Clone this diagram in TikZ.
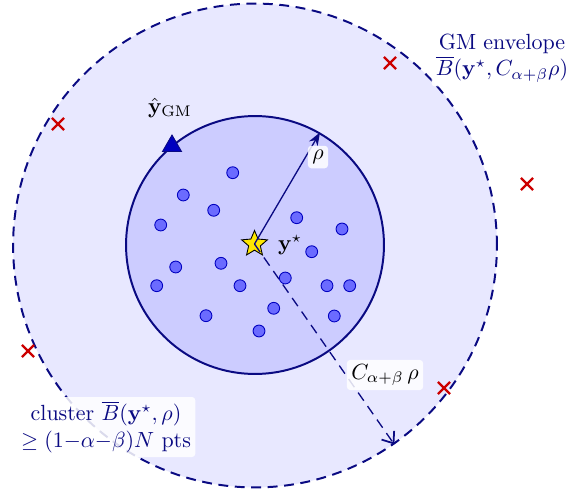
\documentclass[tikz,border=0pt]{standalone}
\usepackage{amsmath,amssymb}
\usetikzlibrary{shapes.geometric,shapes.misc,arrows.meta}
\definecolor{navy}{RGB}{10,10,130}

\begin{document}
\begin{tikzpicture}[x=0.016cm,y=-0.016cm,
  dot/.style={circle,draw=blue!75!black,fill=blue!58,inner sep=0pt,minimum size=5.4pt},
  miss/.style={cross out,draw=red!80!black,line width=1.1pt,inner sep=0pt,minimum size=4.4pt},
  tag/.style={fill=white,fill opacity=0.85,text opacity=1,rounded corners=1.5pt,inner sep=2pt}]
  \useasboundingbox (0,0) rectangle (577,490);
  \node[circle,draw=navy,fill=blue!9,line width=0.9pt,dash pattern=on 4.5pt off 3pt,
    inner sep=0pt,minimum size=7.744cm] (env) at (255,245.5) {};
  \node[circle,draw=navy,fill=blue!20,line width=0.9pt,inner sep=0pt,minimum size=4.128cm] (clu) at (255,245) {};
  % inliers
  \foreach \x/\y [count=\i] in {232.7/172.7,183.3/195,213.7/210.3,160.7/225,296.7/217.7,342/229,
      311.7/251.7,175.7/267,221/263.3,285.3/278,156.7/285.7,240/285.7,327/285.7,349.7/285.7,
      206/315.7,273.7/308.3,334.3/316,259/331}
    \node[dot] (p\i) at (\x,\y) {};
  % outliers
  \node[miss] (o1) at (390,63) {};
  \node[miss] (o2) at (58,124) {};
  \node[miss] (o3) at (527,184) {};
  \node[miss] (o4) at (28,351) {};
  \node[miss] (o5) at (444,388) {};
  \node[regular polygon,regular polygon sides=3,fill=blue!75!black,draw=navy,inner sep=0pt,minimum size=10pt] (gm) at (172,146) {};
  \node (gmlab) at (170,108) {$\hat{\mathbf{y}}_{\mathrm{GM}}$};
  \node[star,star points=5,star point ratio=2.2,fill=yellow!90!orange,draw=black,inner sep=0pt,minimum size=12.3pt] (s) at (254.5,244) {};
  \node (slab) at (290,245) {$\mathbf{y}^\star$};
  \draw[navy,line width=0.6pt,-{Stealth[length=6pt,width=4.5pt]}] (s.center) -- (clu.60);
  \draw[navy,line width=0.6pt,dash pattern=on 4.5pt off 3pt,-{Straight Barb[length=4.5pt,width=7pt,line width=0.8pt]}] (s.center) -- (env.-55);
  \node[tag] (rho) at (318,157) {$\rho$};
  \node[tag] (crho) at (385,375) {$C_{\alpha+\beta}\,\rho$};
  \node[tag,text=navy,align=center] (envlab) at (502,58) {GM envelope\\$\overline{B}(\mathbf{y}^\star,C_{\alpha+\beta}\rho)$};
  \node[tag,text=navy,align=center] (clulab) at (106,427) {cluster $\overline{B}(\mathbf{y}^\star,\rho)$\\$\geq(1{-}\alpha{-}\beta)N$ pts};
\end{tikzpicture}
\end{document}
